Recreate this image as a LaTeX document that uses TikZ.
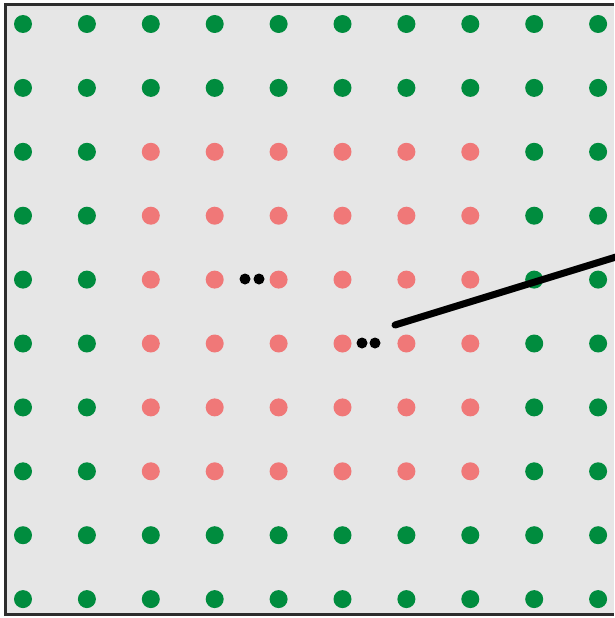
\documentclass[tikz,border=0pt]{standalone}
\definecolor{bggrey}{RGB}{230,230,230}
\definecolor{framec}{RGB}{45,45,45}
\definecolor{dotgreen}{RGB}{0,140,62}
\definecolor{dotpink}{RGB}{240,120,120}
\begin{document}
\begin{tikzpicture}[x=1pt,y=-1pt,
  gdot/.style={circle,fill=dotgreen,inner sep=0pt,minimum size=18pt},
  pdot/.style={circle,fill=dotpink,inner sep=0pt,minimum size=18pt},
  bdot/.style={circle,fill=black,inner sep=0pt,minimum size=11pt},
  pointer/.style={line width=7pt,black,line cap=round}]
\useasboundingbox (0,0) rectangle (614,618);
\fill[white] (0,0) rectangle (614,618);
\fill[bggrey] (5,5) rectangle (614,614);
\draw[framec,line width=3pt] (614,5) -- (5,5) -- (5,614) -- (614,614);
\foreach \i in {0,...,9}{
  \foreach \j in {0,...,9}{
    \pgfmathtruncatemacro{\inner}{(\i>1)*(\i<8)*(\j>1)*(\j<8)}
    \ifnum\inner=1
      \node[pdot] (d-\i-\j) at ({23+63.9*\i},{24+63.9*\j}) {};
    \else
      \node[gdot] (d-\i-\j) at ({23+63.9*\i},{24+63.9*\j}) {};
    \fi
  }
}
\node[bdot] (b1) at (245,279) {};
\node[bdot] (b2) at (259,279) {};
\node[bdot] (b3) at (362,343) {};
\node[bdot] (b4) at (375,343) {};
\coordinate (ls) at (395,325);
\coordinate (le) at (616,257);
\draw[pointer] (ls) -- (le);
\end{tikzpicture}
\end{document}
